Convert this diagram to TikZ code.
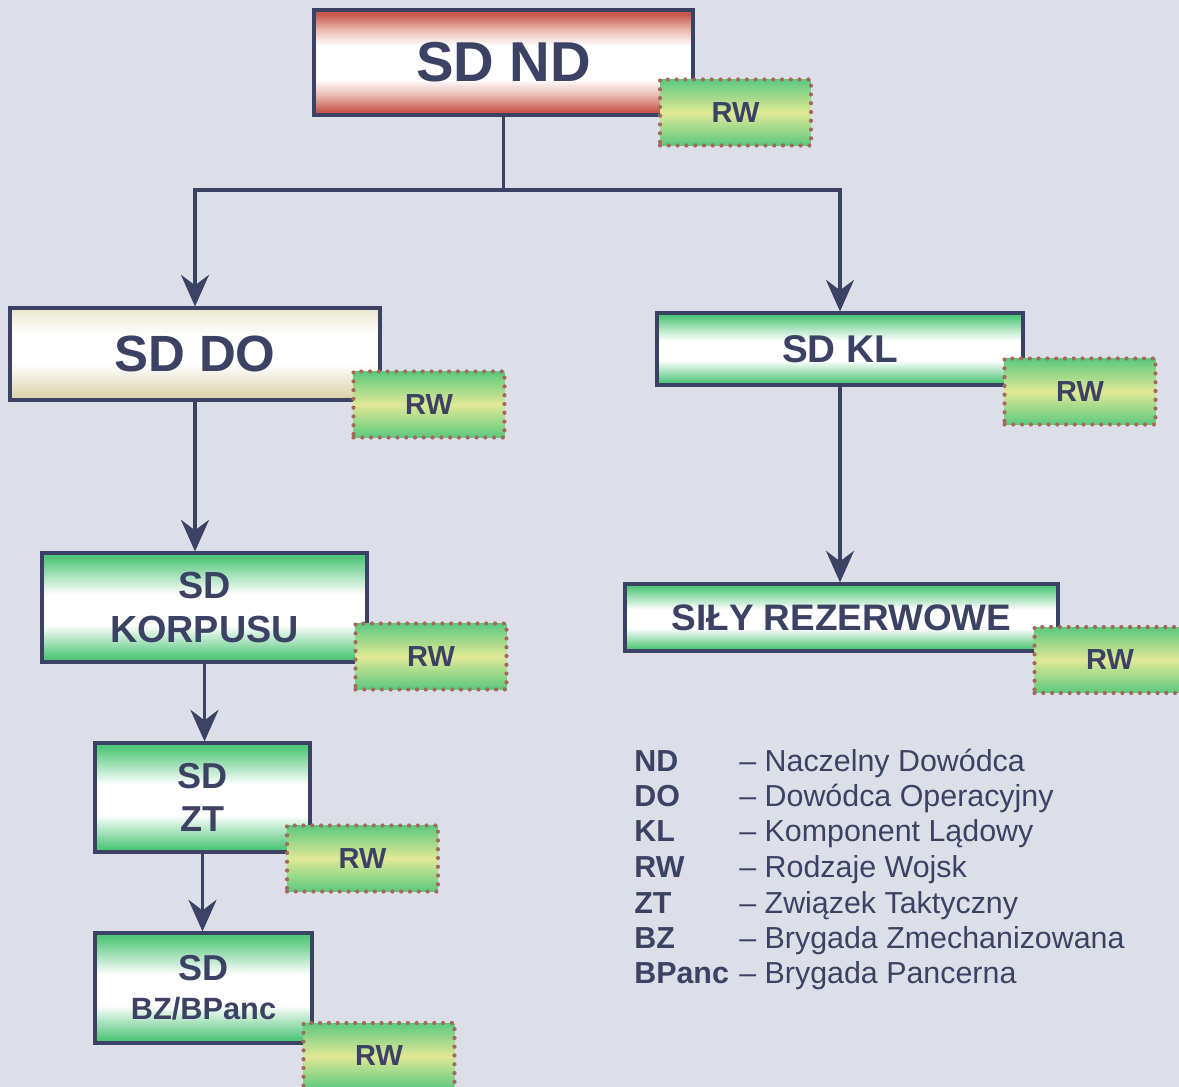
\documentclass[tikz,border=0pt]{standalone}
\usepackage{fontspec}
\setmainfont{Liberation Sans}
\usetikzlibrary{arrows.meta}

\definecolor{paper}{HTML}{DCDFE7}
\definecolor{navy}{HTML}{3C4264}
\definecolor{boxgreen}{HTML}{52C67A}
\definecolor{rwgreen}{HTML}{5CC97E}
\definecolor{rwyellow}{HTML}{E0E896}
\definecolor{ndred}{HTML}{C9584B}
\definecolor{ndpink}{HTML}{E9B4AC}
\definecolor{dotbrown}{HTML}{A3695B}
\definecolor{dotan}{HTML}{D8CFA6}
\definecolor{docream}{HTML}{E9E6CF}

\pgfdeclareverticalshading{greenband}{100bp}{color(0bp)=(boxgreen); color(27bp)=(boxgreen); color(42bp)=(white); color(56bp)=(white); color(73bp)=(boxgreen); color(100bp)=(boxgreen)}
\pgfdeclareverticalshading{redband}{100bp}{color(0bp)=(ndred); color(27bp)=(ndred); color(34bp)=(ndpink); color(42bp)=(white); color(58bp)=(white); color(66bp)=(ndpink); color(73bp)=(ndred); color(100bp)=(ndred)}
\pgfdeclareverticalshading{tanband}{100bp}{color(0bp)=(dotan); color(25bp)=(dotan); color(45bp)=(white); color(60bp)=(white); color(75bp)=(docream); color(100bp)=(docream)}

\begin{document}
\begin{tikzpicture}[x=0.02cm, y=-0.02cm,
  box/.style={draw=navy, line width=1.8pt, text=navy, align=center, inner sep=0pt},
  green/.style={box, shading=greenband},
  rw/.style={draw=dotbrown, line width=2.4pt, dash pattern=on 0pt off 5pt, line cap=round,
    top color=rwgreen, bottom color=rwgreen, middle color=rwyellow,
    text=navy, inner sep=0pt, minimum width=3.02cm, minimum height=1.32cm,
    font=\fontsize{16.5}{19}\selectfont\bfseries},
  arr/.style={draw=navy, line width=1.8pt, -{Stealth[length=18pt,width=16pt,inset=6pt]}},
  abbr/.style={anchor=base west, text=navy, inner sep=0pt, font=\fontsize{17.3}{20}\selectfont\bfseries},
  expl/.style={anchor=base west, text=navy, inner sep=0pt, font=\fontsize{17.3}{20}\selectfont}]
\clip (0,0) rectangle (1179,1087);
\fill[paper] (0,0) rectangle (1179,1087);

% main boxes
\node[box, shading=redband, minimum width=7.58cm, minimum height=2.1cm,
  font=\fontsize{32}{36}\selectfont\bfseries] (nd) at (503.5,62.5) {SD ND};
\node[box, shading=tanband, minimum width=7.4cm, minimum height=1.84cm,
  font=\fontsize{29}{33}\selectfont\bfseries] (do) at (195,354) {SD DO};
\node[green, minimum width=7.32cm, minimum height=1.44cm,
  font=\fontsize{22}{26}\selectfont\bfseries] (kl) at (840,349) {SD KL};
\node[green, minimum width=6.5cm, minimum height=2.18cm,
  font=\fontsize{21.5}{25.6}\selectfont\bfseries] (korp) at (204.5,607.5) {SD\\KORPUSU};
\node[green, minimum width=8.66cm, minimum height=1.34cm,
  font=\fontsize{21}{25}\selectfont\bfseries] (rez) at (841.5,617.5) {SIŁY REZERWOWE};
\node[green, minimum width=4.3cm, minimum height=2.18cm,
  font=\fontsize{20.5}{24}\selectfont\bfseries] (zt) at (202.5,797.5) {SD\\ZT};
\node[green, minimum width=4.34cm, minimum height=2.2cm,
  font=\fontsize{20.5}{22}\selectfont\bfseries] (bz) at (203.5,988) {SD\\{\fontsize{17.5}{21}\selectfont BZ/BPanc}};

% connectors
\coordinate (fork) at (503.5,190);
\draw[draw=navy, line width=1.8pt] (nd) -- (fork);
\draw[arr] (fork) -| (do);
\draw[arr] (fork) -| (kl);
\draw[arr] (do) -- (do.south |- korp.north);
\draw[arr] (kl) -- (kl.south |- rez.north);
\draw[arr] (korp) -- (korp.south |- zt.north);
\draw[arr] (zt) -- (zt.south |- bz.north);

% RW boxes
\node[rw] (nd-rw) at (735.5,112.5) {RW};
\node[rw] (do-rw) at (429,404.5) {RW};
\node[rw] (kl-rw) at (1080,391.5) {RW};
\node[rw] (korp-rw) at (431,656.5) {RW};
\node[rw] (rez-rw) at (1110,660) {RW};
\node[rw] (zt-rw) at (362.5,858.5) {RW};
\node[rw] (bz-rw) at (379,1056) {RW};

% legend
\node[abbr] (nd-a) at (634,771) {ND};
\node[expl] (nd-e) at (739,771) {– Naczelny Dowódca};
\node[abbr] (do-a) at (634,806) {DO};
\node[expl] (do-e) at (739,806) {– Dowódca Operacyjny};
\node[abbr] (kl-a) at (634,841) {KL};
\node[expl] (kl-e) at (739,841) {– Komponent Lądowy};
\node[abbr] (rw-a) at (634,877) {RW};
\node[expl] (rw-e) at (739,877) {– Rodzaje Wojsk};
\node[abbr] (zt-a) at (634,913) {ZT};
\node[expl] (zt-e) at (739,913) {– Związek Taktyczny};
\node[abbr] (bz-a) at (634,948) {BZ};
\node[expl] (bz-e) at (739,948) {– Brygada Zmechanizowana};
\node[abbr] (bp-a) at (634,983) {BPanc};
\node[expl] (bp-e) at (739,983) {– Brygada Pancerna};
\end{tikzpicture}
\end{document}
